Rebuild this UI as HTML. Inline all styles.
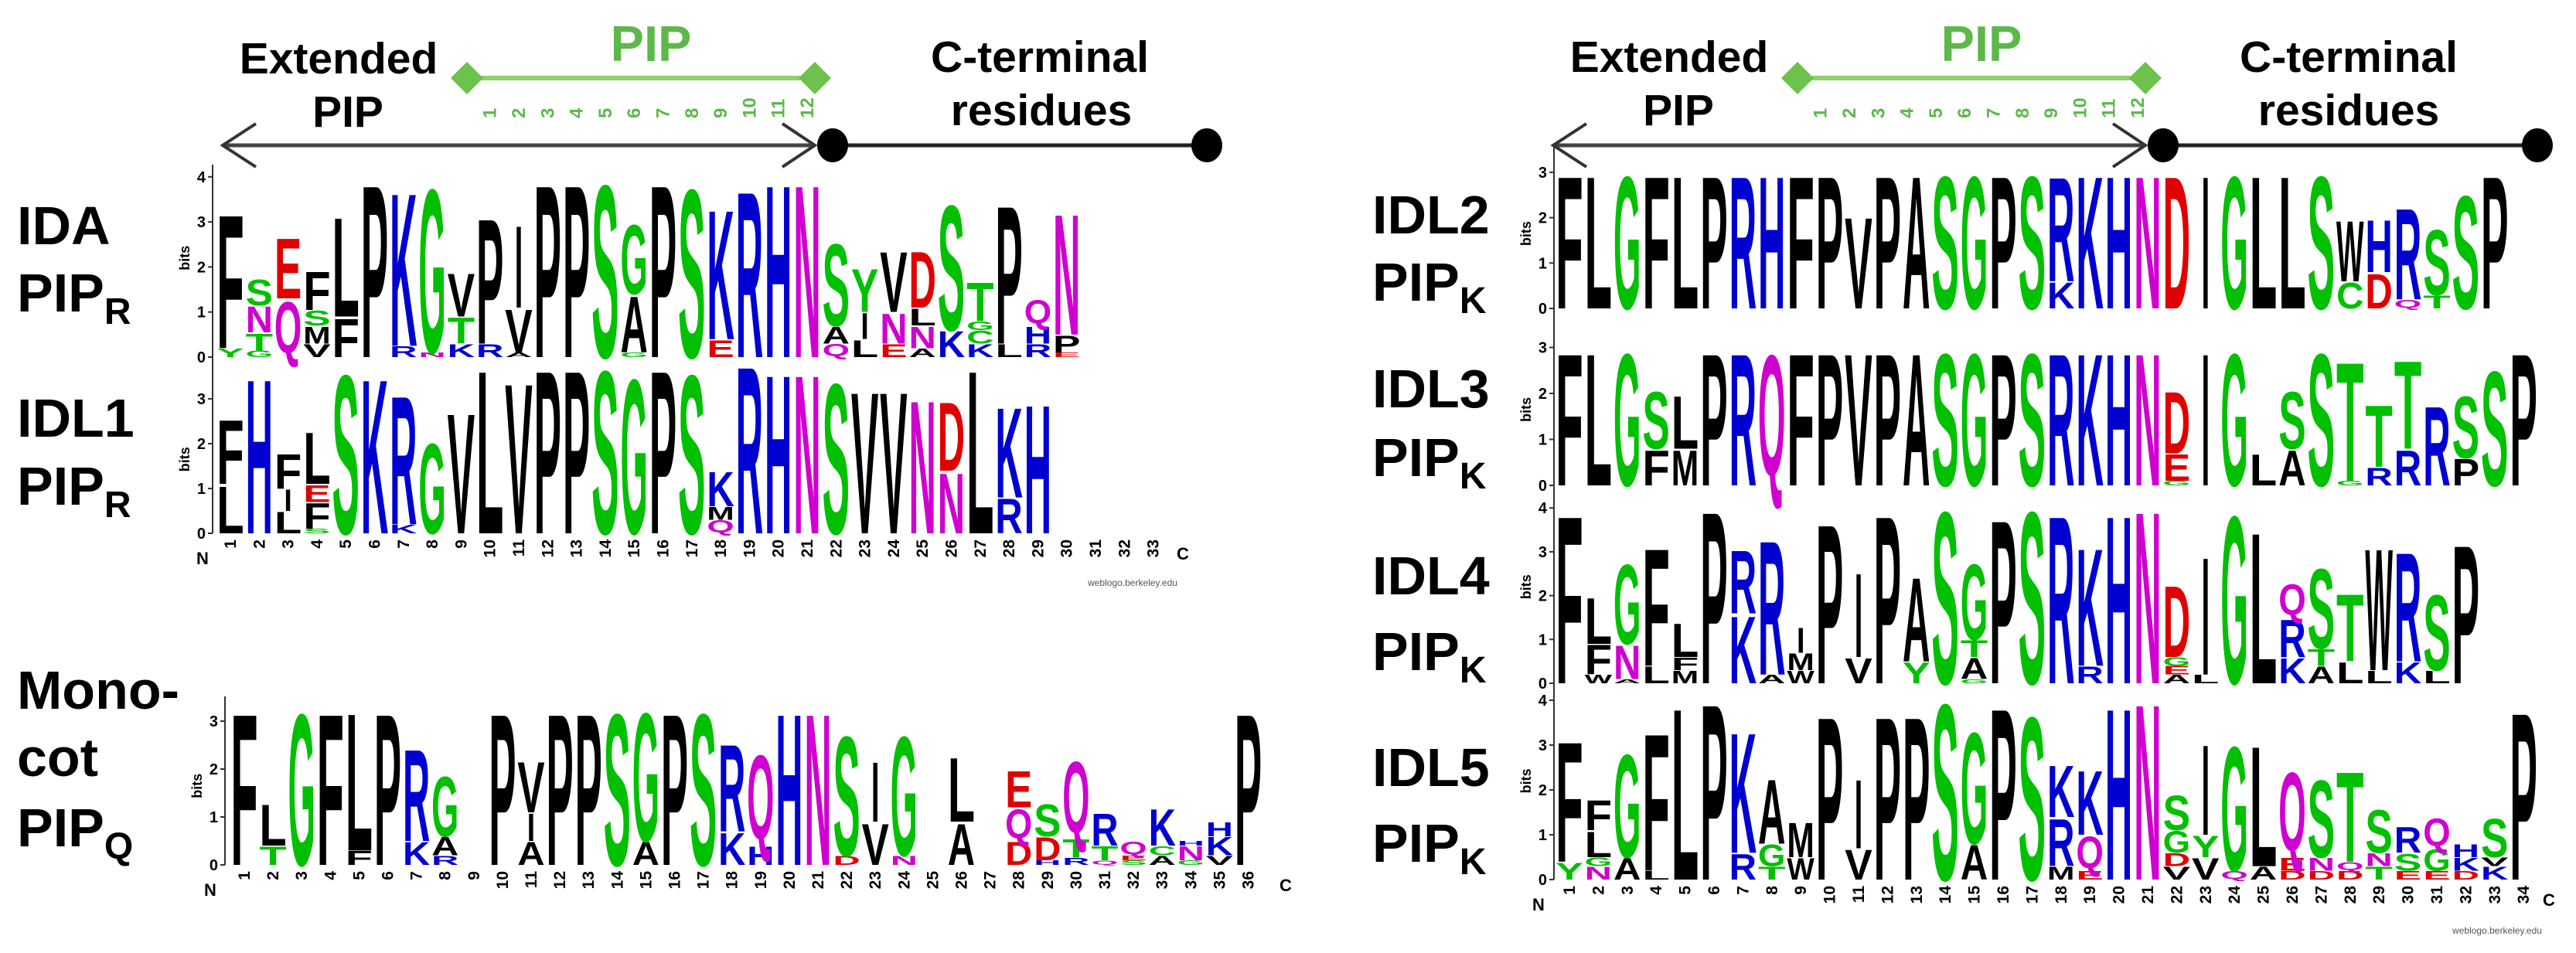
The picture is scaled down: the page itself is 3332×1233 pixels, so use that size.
<!DOCTYPE html>
<html><head><meta charset="utf-8">
<style>
html,body{margin:0;padding:0;background:#fff;}
svg{display:block;}
text{font-family:"Liberation Sans",Arial,sans-serif;}
</style></head>
<body>
<svg id="s" xmlns="http://www.w3.org/2000/svg" width="3332" height="1233" viewBox="0 0 3332 1233">
<rect width="3332" height="1233" fill="#fff"/>
<g font-weight="bold">
<text x="438" y="95" font-size="57" text-anchor="middle">Extended</text>
<text x="450" y="164" font-size="57" text-anchor="middle">PIP</text>
<text x="842" y="79" font-size="65" text-anchor="middle" fill="#5DB84A">PIP</text>
<text x="1345" y="93" font-size="57" text-anchor="middle">C-terminal</text>
<text x="1347" y="162" font-size="57" text-anchor="middle">residues</text>
<text x="2159" y="93" font-size="57" text-anchor="middle">Extended</text>
<text x="2171" y="162" font-size="57" text-anchor="middle">PIP</text>
<text x="2563" y="79" font-size="65" text-anchor="middle" fill="#5DB84A">PIP</text>
<text x="3038" y="93" font-size="57" text-anchor="middle">C-terminal</text>
<text x="3038" y="162" font-size="57" text-anchor="middle">residues</text>
</g>
<g id="hdr"></g>
<g id="logos"></g>
<g font-weight="bold" font-size="70">
<text x="22" y="316">IDA</text>
<text x="22" y="403">PIP<tspan font-size="48" dy="16">R</tspan></text>
<text x="22" y="565">IDL1</text>
<text x="22" y="653">PIP<tspan font-size="48" dy="16">R</tspan></text>
<text x="22" y="917">Mono-</text>
<text x="22" y="1004">cot</text>
<text x="22" y="1095">PIP<tspan font-size="48" dy="16">Q</tspan></text>
<text x="1775" y="302">IDL2</text>
<text x="1775" y="389">PIP<tspan font-size="48" dy="16">K</tspan></text>
<text x="1775" y="527">IDL3</text>
<text x="1775" y="616">PIP<tspan font-size="48" dy="16">K</tspan></text>
<text x="1775" y="769">IDL4</text>
<text x="1775" y="867">PIP<tspan font-size="48" dy="16">K</tspan></text>
<text x="1775" y="1017">IDL5</text>
<text x="1775" y="1115">PIP<tspan font-size="48" dy="16">K</tspan></text>
</g>
<text x="1465" y="758" font-size="12" fill="#555" text-anchor="middle">weblogo.berkeley.edu</text>
<text x="3230" y="1208" font-size="12" fill="#555" text-anchor="middle">weblogo.berkeley.edu</text>
</svg>
<script>
function col(c){
 if("GSTYC".indexOf(c)>=0)return"#00C000";
 if("NQ".indexOf(c)>=0)return"#D000D0";
 if("KRH".indexOf(c)>=0)return"#0000D0";
 if("DE".indexOf(c)>=0)return"#E00000";
 return"#000";
}
function header(dx){
 var g='';
 g+='<line x1="'+(604+dx)+'" y1="101" x2="'+(1054+dx)+'" y2="101" stroke="#8FD16A" stroke-width="6"/>';
 [604,1054].forEach(function(x){x+=dx;g+='<polygon points="'+(x-21)+',101 '+x+',80 '+(x+21)+',101 '+x+',122" fill="#6CC24A"/>';});
 for(var i=1;i<=12;i++){var cx=298+(i+8)*37.3+dx+8;
  g+='<text transform="translate('+cx+',153) rotate(-90)" font-size="24" font-weight="bold" fill="#5DB84A">'+i+'</text>';}
 g+='<line x1="'+(288+dx)+'" y1="188" x2="'+(1052+dx)+'" y2="188" stroke="#444" stroke-width="5"/>';
 g+='<polyline points="'+(331+dx)+',160 '+(288+dx)+',188 '+(331+dx)+',216" fill="none" stroke="#333" stroke-width="4"/>';
 g+='<polyline points="'+(1012+dx)+',160 '+(1054+dx)+',188 '+(1012+dx)+',216" fill="none" stroke="#333" stroke-width="4"/>';
 g+='<line x1="'+(1077+dx)+'" y1="188" x2="'+(1561+dx)+'" y2="188" stroke="#222" stroke-width="5"/>';
 g+='<ellipse cx="'+(1077+dx)+'" cy="188" rx="20" ry="22" fill="#000"/>';
 g+='<ellipse cx="'+(1561+dx)+'" cy="188" rx="20" ry="22" fill="#000"/>';
 return g;
}
function logo(c1,w,base,ppb,cols){
 var s='';
 cols.forEach(function(cs,i){
  if(!cs)return;
  var yb=base, x=c1+i*w-w/2;
  cs.split(" ").forEach(function(t){
   var L=t[0], h=parseFloat(t.slice(1))*ppb;
   var tl=w*0.95, xx=x+w*0.025;
   if(L==="I"){tl=w*0.28;xx=x+w*0.36;}
   var sy=h/73, yy=yb;
   if(L==="Q"){sy=h/80; yy=yb-6*sy;}
   s+='<text transform="translate('+xx.toFixed(1)+','+yy.toFixed(1)+') scale(1,'+sy.toFixed(4)+')" font-size="100" font-weight="bold" fill="'+col(L)+'" textLength="'+tl.toFixed(1)+'" lengthAdjust="spacingAndGlyphs">'+L+'</text>';
   yb-=h;
  });
 });
 return s;
}
function axis(x,base,ppb,n,top){
 var s='<line x1="'+x+'" y1="'+top+'" x2="'+x+'" y2="'+base+'" stroke="#333" stroke-width="2"/>';
 for(var i=0;i<=n;i++){var y=base-i*ppb;
  s+='<line x1="'+(x-6)+'" y1="'+y+'" x2="'+x+'" y2="'+y+'" stroke="#333" stroke-width="2"/>';
  s+='<text x="'+(x-9)+'" y="'+(y+7)+'" font-size="20" font-weight="bold" text-anchor="end">'+i+'</text>';}
 s+='<text transform="translate('+(x-30)+','+(base-ppb*n*0.55)+') rotate(-90)" font-size="18" font-weight="bold" text-anchor="middle">bits</text>';
 return s;
}
function nums(c1,w,n,y,nx,cx){
 var s='';
 for(var i=1;i<=n;i++){var x=c1+(i-1)*w+7;
  s+='<text transform="translate('+x.toFixed(1)+','+y+') rotate(-90)" font-size="21" font-weight="bold" text-anchor="end">'+i+'</text>';}
 s+='<text x="'+nx+'" y="'+(y+32)+'" font-size="22" font-weight="bold" text-anchor="middle">N</text>';
 s+='<text x="'+cx+'" y="'+(y+26)+'" font-size="22" font-weight="bold" text-anchor="middle">C</text>';
 return s;
}
var IDA=["Y.2 F3.1","G.15 T.4 N.6 S.6","Q1.3 E1.4","V.3 M.4 S.35 F.9","F.9 L2.3","P4.0","R.25 K3.55","N.1 G3.8","K.3 T.6 V1.0","R.3 P2.9","A.1 V1.0 I1.9","P4.0","P4.0","S4.0","G.1 A1.3 G1.6","P4.0","S3.9","E.4 K3.0","R3.85","H4.0","N4.0","Q.3 A.4 S1.9","L.4 I.6 Y1.0","E.3 N.7 V1.4","A.2 N.5 L.4 D1.3","K.6 S2.9","K.3 C.3 G.2 T.9","L.3 P3.2","R.3 H.4 Q.6","E.1 P.4 N2.8"];
var IDL1=["L1.1 F1.5","H3.6","L.5 I.5 F.8","S.1 F.6 E.4 L1.2","S3.7","K3.6","K.2 R3.0","G2.1","V2.8","L3.8","V3.5","P3.8","P3.8","S3.8","G3.6","P3.8","S3.7","Q.3 M.3 K.8","R3.9","H3.7","N3.7","S3.5","V3.3","V3.3","N3.1","N1.4 D1.6","L3.8","R.8 K2.1","H3.0"];
var MONO=["F3.3","T.4 L.9","G3.3","F3.3","F.3 L3.0","P3.3","K.5 R2.0","R.2 A.4 G1.3","","P3.3","A.5 I.6 V1.1","P3.3","P3.3","S3.3","A.5 G2.8","P3.3","S3.3","K.7 R1.9","H.4 Q2.0","H3.3","N3.3","D.2 S2.6","V.9 I1.3","N.2 G2.6","","A.9 L1.4","","D.5 Q.7 E.8","H.1 D.5 S.7","R.15 T.4 Q1.7","Q.1 T.3 R.7","S.1 E.1 Q.3","A.2 C.2 K.8","G.1 N.3 H.1","V.2 K.4 H.3","P3.3"];
var IDL2=["F3.05","L3.05","G3.05","F3.05","L3.05","P3.05","R3.05","H3.05","F3.05","P3.05","V2.1","P3.05","A3.05","S3.05","G3.05","P3.05","S3.05","K.6 R2.4","K3.05","H3.05","N3.05","D3.05","I3.05","G3.05","L3.05","L3.05","S3.05","C.6 W1.4","D.8 H1.2","Q.2 R2.1","T.3 S1.5","S2.6","P3.05"];
var IDL3=["F3.0","L3.0","G3.0","F.8 S1.3","M.8 L1.2","P3.0","R3.0","Q3.0","F3.0","P3.0","V3.0","P3.0","A3.0","S3.0","G3.0","P3.0","S3.0","R3.0","K3.0","H3.0","N3.0","G.1 E.6 D1.4","I3.0","G3.0","L.7","A.8 S1.3","S3.0","G.1 T2.7","R.4 T1.4","R.8 T2.0","R1.8","P.6 S1.4","S2.6","P3.0"];
var IDL4=["F4.0","W.2 F.7 L1.1","A.1 N.8 G1.9","L.4 F2.8","M.3 F.3 L.8","P4.1","K1.6 R1.5","A.2 R3.2","W.3 M.4 I.6","P3.8","V.6 I2.0","P4.0","Y.5 A2.0","S4.1","G.1 A.5 T.4 G1.8","P3.9","S4.1","R4.0","R.4 K2.8","H4.0","N4.1","A.2 E.2 G.2 D1.7","L.2 I2.8","G4.0","L3.6","K.6 R.9 Q.8","A.4 T.4 S1.9","L.5 T1.6","L.3 W2.9","K.5 R2.6","L.3 S1.8","P3.3",""];
var IDL5=["Y.4 F2.8","N.3 G.2 L.6 F.7","A.5 G2.4","L.2 F3.2","L4.0","P4.1","R.6 K2.8","T.3 G.5 A1.5","W.5 M.8","P3.8","V.7 I1.6","P3.8","P3.8","S4.1","A.8 G2.6","P4.0","S3.8","M.3 R1.1 K1.2","E.2 Q.8 K1.5","H4.0","N4.1","V.3 D.3 G.5 S.8","V.5 Y.5 I2.1","Q.2 G2.9","A.3 L2.8","D.2 E.3 Q2.0","D.2 N.3 S1.8","D.2 Q.2 T2.1","T.3 N.3 S1.0","E.2 S.4 R.6","E.2 G.5 Q.7","D.2 K.3 H.3","K.3 V.2 S.9","P3.9"];
var s='';
s+=axis(275,462,58.3,4,213)+axis(275,690,58,3,462)+axis(291,1119,62,3,901);
s+=axis(2010,399,58.7,3,188)+axis(2010,628,59.5,3,399)+axis(2010,884,56.7,4,628)+axis(2010,1138,58,4,884);
s+=logo(298,37.3,462,58.3,IDA)+logo(298,37.3,690,58,IDL1)+logo(316,37.1,1119,62,MONO);
s+=logo(2030,37.4,399,58.7,IDL2)+logo(2030,37.4,628,59.5,IDL3)+logo(2030,37.4,884,56.7,IDL4)+logo(2030,37.4,1138,58,IDL5);
s+=nums(298,37.3,33,698,262,1530)+nums(316,37.1,36,1127,272,1663)+nums(2030,37.4,34,1146,1990,3297);
document.getElementById("logos").innerHTML=s;
document.getElementById("hdr").innerHTML=header(0)+header(1721);
</script>
</body></html>
